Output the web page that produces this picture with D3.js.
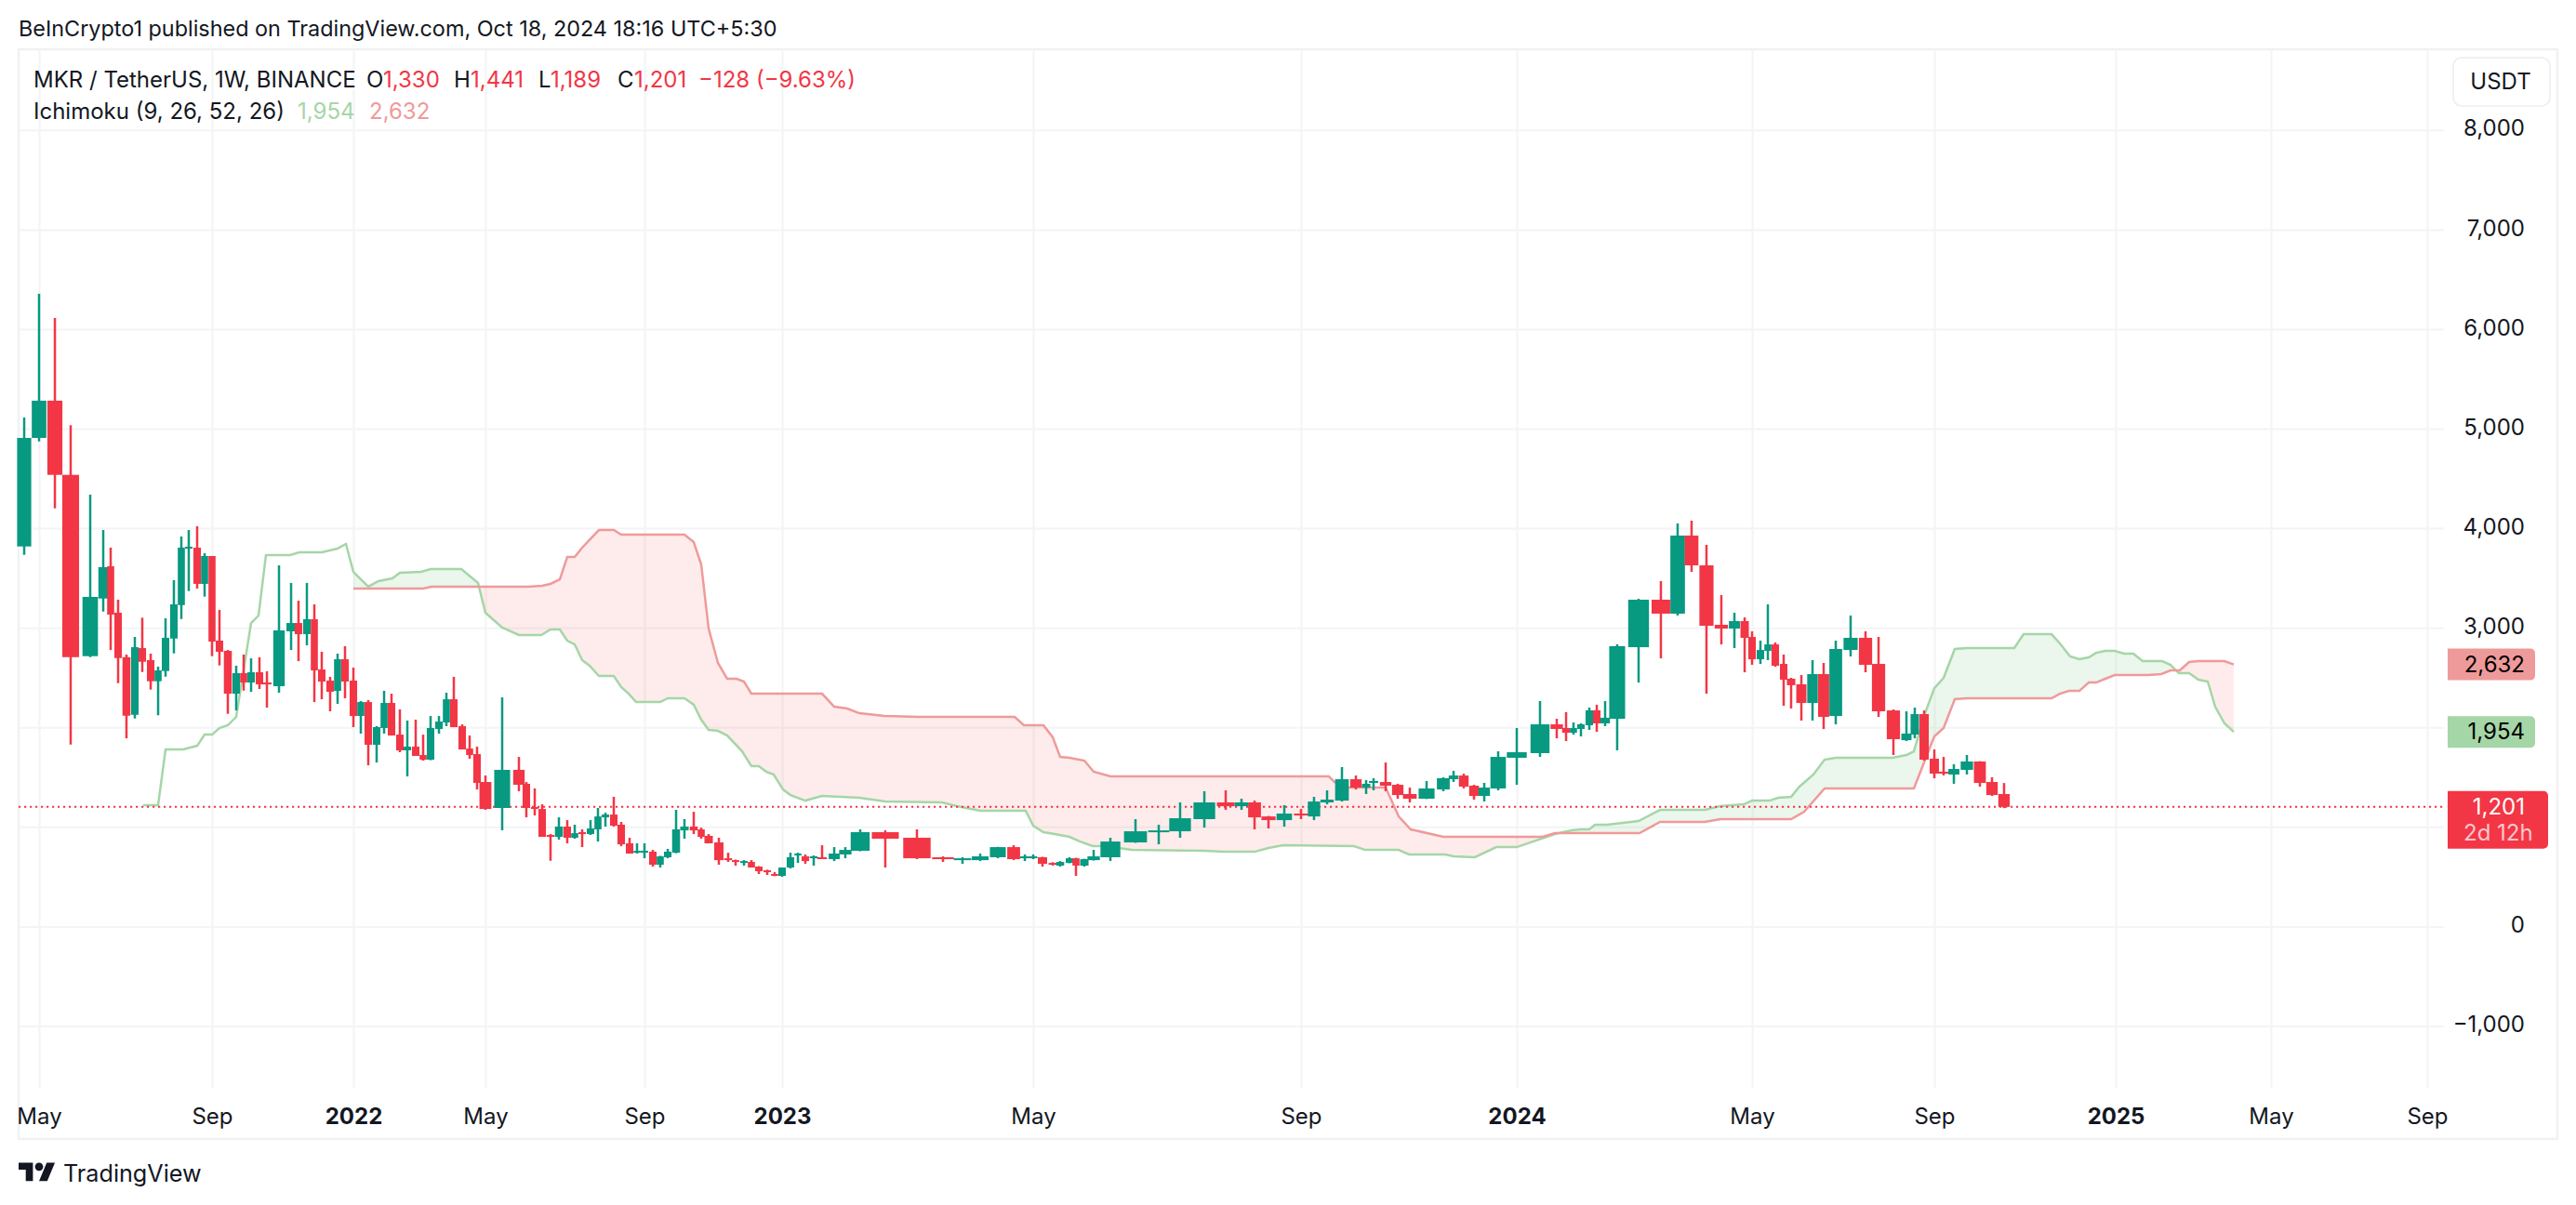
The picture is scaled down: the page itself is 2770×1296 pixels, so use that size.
<!DOCTYPE html>
<html><head><meta charset="utf-8">
<script src="https://cdnjs.cloudflare.com/ajax/libs/d3/7.8.5/d3.min.js"></script>
<style>
html,body{margin:0;padding:0;background:#fff;width:2770px;height:1296px;overflow:hidden}
svg{display:block;font-family:Inter,"Noto Sans",sans-serif}
</style></head><body><svg id="c" width="2770" height="1296"></svg>
<script>
// time is expressed in months since May 2021, as read against the picture's date axis
const tickMonth=[0,4,8,12,16,20,24,28,32,36,40,44,48,52];
const tickLabel=["May","Sep","2022","May","Sep","2023","May","Sep","2024","May","Sep","2025","May","Sep"];
const priceTicks=[8000,7000,6000,5000,4000,3000,2000,1000,0,-1000];
const priceLabels=[8000,7000,6000,5000,4000,3000,0,-1000];

const candleMonth=[-0.344,0,0.366,0.731,1.183,1.484,1.656,1.828,2.021,2.215,2.387,2.581,2.753,2.925,3.118,3.29,3.462,3.656,3.828,4,4.21,4.447,4.684,4.895,5.105,5.342,5.553,5.895,6.237,6.447,6.684,6.895,7.105,7.342,7.553,7.763,8,8.225,8.451,8.704,8.93,9.155,9.408,9.634,9.887,10.113,10.338,10.592,10.817,11.042,11.296,11.521,11.746,12,12.421,12.842,13.029,13.24,13.427,13.637,13.848,14.058,14.246,14.433,14.643,14.83,15.018,15.228,15.415,15.626,15.813,16,16.243,16.459,16.676,16.919,17.162,17.432,17.649,17.865,18.162,18.432,18.649,18.892,19.108,19.324,19.568,19.784,20,20.133,20.252,20.37,20.504,20.637,20.83,21.007,21.244,21.644,22.148,22.563,22.874,23.156,23.437,23.689,23.867,24,24.139,24.292,24.403,24.542,24.639,24.764,24.903,25.153,25.528,25.875,26.194,26.556,26.875,27.111,27.306,27.514,27.75,28,28.241,28.483,28.759,29.017,29.207,29.345,29.569,29.793,30.017,30.328,30.638,30.828,31.017,31.207,31.397,31.655,32,32.395,32.68,32.838,32.964,33.091,33.233,33.36,33.502,33.707,34.071,34.45,34.735,34.972,35.225,35.478,35.7,35.874,36,36.184,36.347,36.51,36.694,36.857,37.082,37.327,37.571,37.837,38.163,38.49,38.776,39.102,39.388,39.571,39.776,40,40.205,40.431,40.718,41.005,41.272,41.538];
const open=[3817,4907,5281,4536,2715,3294,3618,3151,2705,2126,2796,2675,2463,2566,2892,3228,3795,3805,3441,3721,2871,2768,2338,2544,2450,2553,2450,2413,2964,3048,2936,3086,2581,2469,2366,2684,2469,2114,2254,1825,1993,2245,1927,1769,1806,1722,1675,1983,2049,2282,2012,1787,1731,1451,1190,1573,1433,1199,1180,919,900,1003,891,947,928,975,1096,1124,1022,835,741,741,751,620,695,741,965,1003,975,910,844,685,666,638,648,601,564,527,508,592,713,704,685,695,676,723,760,947,891,695,666,666,695,797,685,685,695,638,611,638,685,611,666,695,844,956,956,1078,1246,1208,1246,1105,1068,1134,1105,1246,1264,1479,1395,1442,1451,1423,1330,1283,1376,1479,1516,1414,1311,1386,1694,1741,2030,1993,1946,1984,2021,2171,2040,2086,2805,3282,3142,3926,3627,3030,2992,3067,2908,2684,2768,2833,2637,2488,2432,2245,2535,2114,2777,2899,2637,2170,1871,1927,2133,1685,1554,1526,1573,1657,1451,1330];
const high=[5112,6355,6112,5035,4337,3982,3805,3282,2731,2908,3101,2740,2609,3095,3478,3917,3982,4020,3749,3721,3179,2777,2619,2731,2693,2703,2563,3627,3450,3272,3450,3235,2759,2507,2740,2815,2600,2264,2273,2012,2367,2338,2180,2068,2077,1927,2114,2114,2348,2507,2030,1918,1806,1516,2301,1703,1451,1386,1227,928,1096,1068,1022,975,1068,1190,1143,1302,1050,891,835,835,769,710,779,1171,1078,1152,993,928,891,741,672,666,666,606,570,545,592,741,741,723,713,816,797,797,975,966,975,704,695,732,800,816,723,723,700,645,657,695,690,680,769,891,1078,1022,1246,1358,1367,1283,1264,1110,1218,1180,1302,1367,1601,1516,1470,1489,1647,1433,1395,1461,1498,1563,1535,1423,1442,1759,1993,2264,2086,2152,2049,2040,2198,2227,2264,2834,3291,3469,4048,4076,3833,3328,3151,3104,2964,2871,3235,2852,2731,2497,2525,2675,2647,2871,3123,2964,2908,2180,2161,2198,2170,1778,1703,1629,1722,1660,1498,1441];
const low=[3733,4872,4200,1827,2705,3163,2777,2444,1890,2089,2556,2379,2121,2509,2743,3088,3369,3394,3313,2715,2622,2136,2170,2369,2357,2385,2198,2348,2777,2665,2824,2254,2282,2161,2236,2292,2002,1937,1619,1647,1937,1918,1750,1507,1713,1666,1670,1937,2012,2002,1778,1685,1376,1171,966,1358,1096,1115,900,660,872,835,881,797,919,853,1003,1003,806,732,732,685,601,592,685,735,881,928,881,835,620,648,611,611,592,527,517,505,499,583,638,629,611,680,657,685,755,592,676,648,629,657,685,666,657,676,601,612,601,635,508,601,662,657,840,825,891,993,1171,1171,975,984,1003,1078,1068,1227,1255,1376,1330,1367,1358,1283,1246,1280,1358,1451,1386,1274,1255,1367,1423,1703,1890,1862,1927,1909,1974,1955,2012,1769,2450,2693,3123,3562,2338,2833,2796,2553,2628,2637,2675,2609,2217,2189,2068,2068,1983,2030,2712,2553,2105,1722,1862,1890,1666,1488,1517,1433,1526,1404,1311,1189];
const close=[4907,5281,4536,2705,3310,3609,3132,2696,2117,2805,2659,2463,2572,2899,3235,3805,3814,3441,3721,2861,2759,2338,2544,2450,2553,2432,2432,2974,3048,2936,3086,2572,2460,2357,2684,2460,2114,2254,1825,2002,2245,1918,1769,1806,1713,1675,1993,2058,2282,2002,1778,1722,1442,1180,1573,1423,1190,1190,900,900,1003,891,937,928,984,1105,1124,1012,825,732,760,760,620,704,751,975,1003,965,900,835,666,666,648,657,592,555,545,508,592,695,732,657,704,685,732,769,947,881,685,676,685,704,797,676,704,704,629,620,648,685,611,676,704,853,956,965,1087,1246,1208,1246,1096,1068,1134,1115,1255,1274,1479,1395,1433,1461,1414,1320,1283,1386,1489,1516,1404,1311,1395,1703,1750,2030,1984,1946,1993,2030,2171,2040,2096,2815,3282,3142,3926,3627,3020,2992,3067,2899,2684,2777,2833,2619,2478,2423,2245,2535,2105,2787,2899,2628,2161,1881,1937,2133,1675,1535,1535,1582,1657,1442,1320,1201];

const spanAMonth=[2.409,2.753,2.925,3.333,3.656,3.828,4,4.21,4.447,4.684,5.105,5.316,5.526,6.21,6.474,7.105,7.553,7.789,8,8.451,8.761,9.183,9.408,10.056,10.338,11.268,11.775,12,12.421,12.842,13.404,13.637,13.871,14.058,14.246,14.433,14.62,14.854,15.228,15.415,15.602,15.789,16.459,16.676,17.162,17.432,17.649,17.865,18.135,18.405,18.838,19.108,19.324,19.541,19.757,20.015,20.133,20.37,20.637,21.23,21.644,22.548,22.785,23.156,23.881,24,24.153,24.319,24.542,24.701,24.889,25.069,25.472,26.556,26.833,27.306,27.514,27.736,28.983,29.19,29.81,30,30.672,30.828,31.224,31.621,32,32.648,32.933,33.091,33.233,33.328,33.533,34.071,34.435,35.194,35.462,35.858,36,36.388,36.571,36.857,37.041,37.347,37.592,37.837,39.082,39.388,39.551,39.796,40,40.205,40.451,40.718,41.764,41.969,42.585,42.769,42.995,43.2,43.405,43.569,43.774,43.979,44.216,44.455,44.695,45.198,45.413,45.629,45.892,46.132,46.371,46.563,46.802,47.042];
const spanAValue=[1218,1218,1778,1778,1815,1927,1927,1993,2021,2105,3048,3123,3730,3730,3758,3758,3796,3842,3562,3413,3469,3497,3553,3562,3590,3590,3450,3151,3002,2927,2927,2983,2983,2871,2833,2675,2619,2516,2516,2404,2338,2254,2254,2292,2292,2227,2077,1974,1965,1918,1759,1610,1610,1554,1526,1376,1320,1264,1311,1292,1255,1246,1208,1162,1162,1012,947,928,900,853,807,807,769,760,750,750,788,816,807,769,769,723,723,704,695,797,797,928,965,975,975,1022,1022,1059,1171,1171,1208,1227,1264,1264,1292,1302,1405,1527,1675,1694,1694,1722,1759,2142,2394,2497,2787,2796,2796,2936,2936,2843,2712,2684,2703,2749,2768,2768,2740,2740,2665,2665,2628,2544,2544,2478,2460,2208,2040,1954];
const spanBMonth=[8,10.113,10.366,13.076,13.427,13.637,13.871,14.058,14.246,14.433,14.854,15.228,15.415,17.162,17.432,17.649,17.865,18.135,18.405,18.676,18.892,19.108,20.637,20.83,21.037,21.23,21.63,22.163,23.704,23.852,24.153,24.292,24.403,24.542,24.764,24.903,25.153,28.517,28.621,28.793,29.569,29.81,30.034,30.638,32.443,32.648,34.087,34.435,35.194,35.462,36.857,37.143,37.592,39.551,40,40.205,40.451,40.718,42.585,42.769,42.974,43.2,43.405,43.569,43.774,43.979,44.838,45.174,45.413,45.653,45.892,46.132,46.802,47.042];
const spanBValue=[3394,3394,3413,3413,3422,3441,3487,3711,3711,3805,3982,3982,3936,3936,3861,3637,2992,2647,2488,2488,2460,2338,2338,2208,2189,2142,2114,2105,2105,2021,2021,1900,1703,1694,1666,1554,1507,1507,1451,1395,1395,1105,975,900,900,937,937,1050,1050,1078,1078,1152,1386,1386,1909,1993,2283,2292,2292,2338,2366,2366,2450,2450,2488,2525,2525,2535,2572,2572,2656,2665,2665,2632];

const headerText="BeInCrypto1 published on TradingView.com, Oct 18, 2024 18:16 UTC+5:30";
const titleText="MKR / TetherUS, 1W, BINANCE";
const ohlcLabels=["O","H","L","C"];
const ohlcValues=["1,330","1,441","1,189","1,201"];
const changeText="\u2212128 (\u22129.63%)";
const ichimokuText="Ichimoku (9, 26, 52, 26)";
const lastA=1954,lastB=2632,lastPrice=1201;
const countdown="2d 12h";

const UP="#089981",DOWN="#F23645",GRID="#f3f4f6",FRAME="#f0f1f3",INK="#131722";
const LINE_A="#a5d6a7",LINE_B="#ef9a9a",FILL_A="rgba(165,214,167,0.22)",FILL_B="rgba(244,120,110,0.14)";

const svg=d3.select("#c");
const tickPx=[42,228,380,522,693,841,1111,1399,1631,1884,2080,2275,2442,2610];
const x=d3.scaleLinear().domain(tickMonth).range(tickPx);
const y=d3.scaleLinear().domain([-1000,8000]).range([1103.5,139.8]);

// frame
svg.append("rect").attr("x",20).attr("y",53).attr("width",2730).attr("height",1172).attr("fill","none").attr("stroke",FRAME).attr("stroke-width",2.4);

// grid
const hg=svg.append("g").attr("transform","translate(20,0)").call(d3.axisLeft(y).tickValues(priceTicks).tickSize(-2608).tickFormat(""));
hg.select(".domain").remove();hg.selectAll("line").attr("stroke",GRID).attr("stroke-width",2);
const vg=svg.append("g").attr("transform","translate(0,1170)").call(d3.axisBottom(x).tickValues(tickMonth).tickSize(-1117).tickFormat(""));
vg.select(".domain").remove();vg.selectAll("line").attr("stroke",GRID).attr("stroke-width",2);

// cloud
const A=spanAMonth.map((m,i)=>[m,spanAValue[i]]),B=spanBMonth.map((m,i)=>[m,spanBValue[i]]);
const lerp=(s,m)=>{let i=d3.bisectRight(s.map(d=>d[0]),m);if(i<=0)return s[0][1];if(i>=s.length)return s[s.length-1][1];const a=s[i-1],b=s[i];return a[1]+(b[1]-a[1])*(m-a[0])/(b[0]-a[0]);};
const m0=spanBMonth[0],m1=spanBMonth[spanBMonth.length-1];
let grid=Array.from(new Set([...spanAMonth,...spanBMonth])).filter(m=>m>=m0&&m<=m1).sort(d3.ascending);
let cloud=[];
grid.forEach((m,i)=>{const a=lerp(A,m),b=lerp(B,m);
  if(i){const p=cloud[cloud.length-1];const d0=p.a-p.b,d1=a-b;
    if(d0*d1<0){const f=d0/(d0-d1),mm=p.m+(m-p.m)*f,v=p.a+(a-p.a)*f;cloud.push({m:mm,a:v,b:v});}}
  cloud.push({m,a,b});});
const greenArea=d3.area().x(d=>x(d.m)).y0(d=>y(d.b)).y1(d=>y(Math.max(d.a,d.b)));
const redArea=d3.area().x(d=>x(d.m)).y0(d=>y(d.b)).y1(d=>y(Math.min(d.a,d.b)));
svg.append("path").attr("d",greenArea(cloud)).attr("fill",FILL_A);
svg.append("path").attr("d",redArea(cloud)).attr("fill",FILL_B);
const ln=d3.line().x(d=>x(d[0])).y(d=>y(d[1]));
svg.append("path").attr("d",ln(A)).attr("fill","none").attr("stroke",LINE_A).attr("stroke-width",2.5);
svg.append("path").attr("d",ln(B)).attr("fill","none").attr("stroke",LINE_B).attr("stroke-width",2.5);

// last price line
svg.append("line").attr("x1",20).attr("x2",2628).attr("y1",y(lastPrice)).attr("y2",y(lastPrice)).attr("stroke",DOWN).attr("stroke-width",2).attr("stroke-dasharray","2.2 3.8");

// candles
const candles=candleMonth.map((m,i)=>({m,o:open[i],h:high[i],l:low[i],c:close[i]}));
const gap=i=>{const n=candleMonth.length;const cx=x(candleMonth[i]);
  const a=i>0?cx-x(candleMonth[i-1]):x(candleMonth[i+1])-cx;
  const b=i<n-1?x(candleMonth[i+1])-cx:a;return (a+b)/2;};
const g=svg.append("g");
const cg=g.selectAll("g").data(candles).join("g").attr("fill",d=>d.c>=d.o?UP:DOWN);
cg.append("rect").attr("x",d=>x(d.m)-1.25).attr("width",2.5).attr("y",d=>y(d.h)).attr("height",d=>y(d.l)-y(d.h));
cg.append("rect").attr("x",(d,i)=>x(d.m)-0.475*gap(i)).attr("width",(d,i)=>0.95*gap(i))
  .attr("y",d=>y(Math.max(d.o,d.c))).attr("height",d=>Math.max(2,Math.abs(y(d.o)-y(d.c))));

// axes
const fmt=d3.format(",");
const ya=svg.append("g").attr("transform","translate(2715,-1.5)").call(d3.axisRight(y).tickValues(priceLabels).tickSize(0).tickFormat(fmt));
ya.select(".domain").remove();
ya.selectAll("text").attr("x",0).attr("text-anchor","end").attr("fill",INK).style("font-family","Inter").style("font-size","24px");
const xa=svg.append("g").attr("transform","translate(0,1192)").call(d3.axisBottom(x).tickValues(tickMonth).tickSize(0).tickFormat((d,i)=>tickLabel[i]));
xa.select(".domain").remove();
xa.selectAll("text").attr("y",0).attr("dy","0.71em").attr("fill",INK).style("font-family","Inter").style("font-size","24px")
  .style("font-weight",(d,i)=>/^\d/.test(tickLabel[i])?700:400);

// badges
const badge=(v,col,w,h,txtCol)=>{const t=y(v)-17;
  svg.append("path").attr("d",`M2632 ${t}H${2632+w-5}a5 5 0 0 1 5 5V${t+h-5}a5 5 0 0 1 -5 5H2632Z`).attr("fill",col);
  svg.append("text").attr("x",2715).attr("y",y(v)+8).attr("text-anchor","end").attr("fill",txtCol).attr("font-size",24).text(fmt(v));};
badge(lastB,"#ef9a9a",94,34,"#000");
badge(lastA,"#a5d6a7",94,34,"#000");
badge(lastPrice,DOWN,108,62,"#fff");
svg.append("text").attr("x",2649).attr("y",y(lastPrice)+36).attr("fill","#fcc6cc").attr("font-size",24).text(countdown);

// USDT button
svg.append("rect").attr("x",2638).attr("y",62).attr("width",104).attr("height",52).attr("rx",9).attr("fill","#fff").attr("stroke","#eceef1").attr("stroke-width",1.6);
svg.append("text").attr("x",2689).attr("y",96).attr("text-anchor","middle").attr("fill",INK).attr("font-size",24).text("USDT");

// header and legend
svg.append("text").attr("x",20).attr("y",39).attr("fill",INK).attr("font-size",23.4).text(headerText);
svg.append("text").attr("x",36).attr("y",94).attr("fill",INK).attr("font-size",24).text(titleText);
const lx=[394,488,579,664],vx=[412,506,592,682];
ohlcLabels.forEach((l,i)=>{
  svg.append("text").attr("x",lx[i]).attr("y",94).attr("fill",INK).attr("font-size",24).text(l);
  svg.append("text").attr("x",vx[i]).attr("y",94).attr("fill",DOWN).attr("font-size",24).text(ohlcValues[i]);});
svg.append("text").attr("x",751).attr("y",94).attr("fill",DOWN).attr("font-size",24).text(changeText);
svg.append("text").attr("x",36).attr("y",128).attr("fill",INK).attr("font-size",24).text(ichimokuText);
svg.append("text").attr("x",320).attr("y",128).attr("fill",LINE_A).attr("font-size",24).text(fmt(lastA));
svg.append("text").attr("x",397).attr("y",128).attr("fill",LINE_B).attr("font-size",24).text(fmt(lastB));

// logo
const logo=svg.append("g").attr("transform","translate(20,1246) scale(1.1)").attr("fill","#131722");
logo.append("path").attr("d","M14 22H7V11H0V4h14v18zM28 22h-8l7.5-18h8L28 22z");
logo.append("circle").attr("cx",20).attr("cy",8).attr("r",4);
svg.append("text").attr("x",68).attr("y",1271).attr("fill",INK).attr("font-size",25.2).text("TradingView");
</script></body></html>
